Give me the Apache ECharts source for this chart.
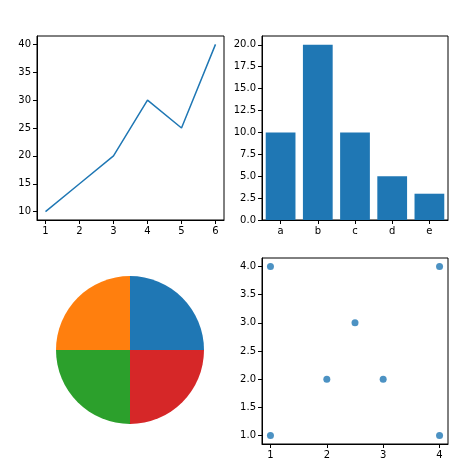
<!DOCTYPE html>
<html>
<head>
<meta charset="utf-8">
<script src="https://cdn.jsdelivr.net/npm/echarts@6/dist/echarts.min.js"></script>
<style>html,body{margin:0;padding:0;background:#fff}#c{width:474px;height:476px}</style>
</head>
<body>
<div id="c"></div>
<script>
// line plot
const lineX = [1, 2, 3, 4, 5, 6];
const lineY = [10, 15, 20, 30, 25, 40];
// bar plot
const barCats = ['a', 'b', 'c', 'd', 'e'];
const barVals = [10, 20, 10, 5, 3];
// pie
const pieVals = [1, 1, 1, 1];
const pieColors = ['#1f77b4', '#ff7f0e', '#2ca02c', '#d62728'];
// scatter
const scatterPts = [[1, 1], [1, 4], [2, 2], [2.5, 3], [3, 2], [4, 4], [4, 1]];
// tick labels
const lineYTicks = [10, 15, 20, 25, 30, 35, 40];
const barYTicks = [0, 2.5, 5, 7.5, 10, 12.5, 15, 17.5, 20];
const scatXTicks = [1, 2, 3, 4];
const scatYTicks = [1, 1.5, 2, 2.5, 3, 3.5, 4];

const blue = '#1f77b4';
const lab = { color: '#000', fontSize: 10, fontFamily: 'DejaVu Sans' };
const tick = { show: true, inside: false, length: 4, lineStyle: { color: '#000' } };
const line = { show: true, onZero: false, lineStyle: { color: '#000' } };

function valAxis(idx, min, max, ticks, fmt) {
  return {
    type: 'value', gridIndex: idx, min, max, splitLine: { show: false },
    axisLine: line,
    axisTick: Object.assign({ customValues: ticks }, tick),
    axisLabel: Object.assign({ customValues: ticks, formatter: fmt }, lab, { margin: 6 })
  };
}
const grid = (l, t, w, h) => ({ left: l, top: t, width: w, height: h, show: true, borderColor: '#000', borderWidth: 1 });

const chart = echarts.init(document.getElementById('c'));
chart.setOption({
  animation: false,
  grid: [grid(37, 36, 187, 184), grid(262, 36, 186, 184), grid(262, 258, 186, 186)],
  xAxis: [
    valAxis(0, 0.75, 6.25, lineX, v => String(v)),
    { type: 'category', gridIndex: 1, data: barCats, axisLine: line,
      axisTick: Object.assign({ alignWithLabel: true }, tick),
      axisLabel: Object.assign({}, lab, { margin: 6 }) },
    valAxis(2, 0.85, 4.15, scatXTicks, v => String(v))
  ],
  yAxis: [
    valAxis(0, 8.5, 41.5, lineYTicks, v => String(v)),
    valAxis(1, 0, 21, barYTicks, v => v.toFixed(1)),
    valAxis(2, 0.85, 4.15, scatYTicks, v => v.toFixed(1))
  ],
  series: [
    { type: 'line', xAxisIndex: 0, yAxisIndex: 0, data: lineX.map((x, i) => [x, lineY[i]]),
      showSymbol: false, lineStyle: { color: blue, width: 1.5 } },
    { type: 'bar', xAxisIndex: 1, yAxisIndex: 1, data: barVals, barWidth: '80%', itemStyle: { color: blue } },
    { type: 'scatter', xAxisIndex: 2, yAxisIndex: 2, data: scatterPts, symbolSize: 7, itemStyle: { color: blue } },
    { type: 'pie', center: [130, 350], radius: 74, startAngle: 0, clockwise: false,
      label: { show: false }, labelLine: { show: false }, emphasis: { disabled: true },
      data: pieVals.map((v, i) => ({ value: v, itemStyle: { color: pieColors[i] } })) }
  ]
});
</script>
</body>
</html>
